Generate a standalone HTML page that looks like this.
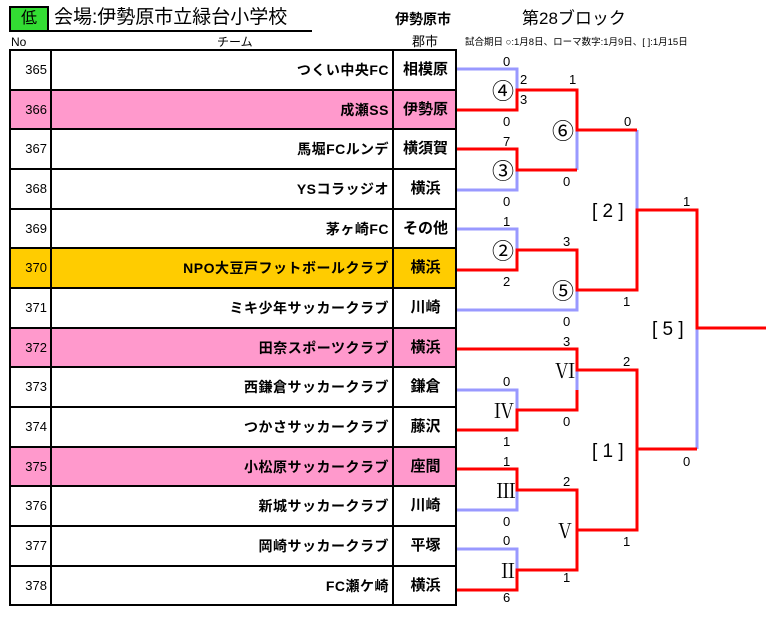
<!DOCTYPE html>
<html><head><meta charset="utf-8"><style>
body{margin:0;width:766px;height:644px;background:#fff;position:relative;overflow:hidden;font-family:"Liberation Sans","Noto Sans CJK JP",sans-serif;}
.a{position:absolute;white-space:nowrap;line-height:1;}
.r{position:absolute;left:9px;width:448px;height:40px;border:2px solid #000;border-bottom:none;box-sizing:border-box;}
.r div{position:absolute;top:0;height:38px;line-height:38px;white-space:nowrap;}
.n{left:0;width:36px;text-align:right;font-size:13px;}
.t{left:39px;width:337px;text-align:right;font-weight:bold;font-size:14px;letter-spacing:0.5px;border-left:2px solid #000;}
.c{left:381px;width:63px;text-align:center;font-weight:bold;font-size:15px;border-left:2px solid #000;}
.p{background:#ff99cc;}.o{background:#ffcc00;}
svg{position:absolute;left:0;top:0;}
svg text{font-family:"Liberation Sans","Noto Sans CJK JP",sans-serif;font-size:13px;}
.s{font-size:22px;}
.m{font-size:20px;font-family:"Liberation Serif","Noto Serif CJK SC",serif;}
.b{font-size:19px;}
</style></head><body>
<div class="a" style="left:9px;top:6px;width:36px;height:22px;background:#33dd33;border:2px solid #000;text-align:center;font-size:16px;line-height:22px;">低</div>
<div class="a" style="left:54px;top:8px;font-size:19px;">会場:伊勢原市立緑台小学校</div>
<div class="a" style="left:10px;top:30px;width:302px;border-top:2px solid #000;"></div>
<div class="a" style="left:395px;top:12px;font-size:14px;font-weight:bold;">伊勢原市</div>
<div class="a" style="left:522px;top:10px;font-size:17px;">第28ブロック</div>
<div class="a" style="left:11px;top:36px;font-size:12px;">No</div>
<div class="a" style="left:217px;top:36px;font-size:12px;">チーム</div>
<div class="a" style="left:412px;top:35px;font-size:13px;">郡市</div>
<div class="a" style="left:465px;top:38px;font-size:9.5px;">試合期日 ○:1月8日、ローマ数字:1月9日、[ ]:1月15日</div>

<div class="r" style="top:49px"><div class="n">365</div><div class="t">つくい中央FC</div><div class="c">相模原</div></div>
<div class="r p" style="top:88.6px"><div class="n">366</div><div class="t">成瀬SS</div><div class="c">伊勢原</div></div>
<div class="r" style="top:128.3px"><div class="n">367</div><div class="t">馬堀FCルンデ</div><div class="c">横須賀</div></div>
<div class="r" style="top:168px"><div class="n">368</div><div class="t">YSコラッジオ</div><div class="c">横浜</div></div>
<div class="r" style="top:207.6px"><div class="n">369</div><div class="t">茅ヶ崎FC</div><div class="c">その他</div></div>
<div class="r o" style="top:247.3px"><div class="n">370</div><div class="t">NPO大豆戸フットボールクラブ</div><div class="c">横浜</div></div>
<div class="r" style="top:287px"><div class="n">371</div><div class="t">ミキ少年サッカークラブ</div><div class="c">川崎</div></div>
<div class="r p" style="top:326.6px"><div class="n">372</div><div class="t">田奈スポーツクラブ</div><div class="c">横浜</div></div>
<div class="r" style="top:366.3px"><div class="n">373</div><div class="t">西鎌倉サッカークラブ</div><div class="c">鎌倉</div></div>
<div class="r" style="top:406px"><div class="n">374</div><div class="t">つかさサッカークラブ</div><div class="c">藤沢</div></div>
<div class="r p" style="top:445.6px"><div class="n">375</div><div class="t">小松原サッカークラブ</div><div class="c">座間</div></div>
<div class="r" style="top:485.3px"><div class="n">376</div><div class="t">新城サッカークラブ</div><div class="c">川崎</div></div>
<div class="r" style="top:525px"><div class="n">377</div><div class="t">岡崎サッカークラブ</div><div class="c">平塚</div></div>
<div class="r" style="top:564.6px;height:41px;border-bottom:2px solid #000"><div class="n">378</div><div class="t">FC瀬ケ崎</div><div class="c">横浜</div></div>

<svg width="766" height="644" fill="none" stroke-width="3">
<g stroke="#9999ff">
<polyline points="457,69 517,69 517,90"/>
<polyline points="577,130 577,170"/>
<polyline points="517,170 517,190 457,190"/>
<polyline points="637,130 637,210"/>
<polyline points="457,229 517,229 517,250"/>
<polyline points="577,290 577,310 457,310"/>
<polyline points="697,328 697,449"/>
<polyline points="577,370 577,390"/>
<polyline points="457,390 517,390 517,410"/>
<polyline points="637,450 637,530"/>
<polyline points="517,490 517,510 457,510"/>
<polyline points="577,530 577,570"/>
<polyline points="457,549 517,549 517,570"/>
</g>
<g stroke="#ff0000">
<polyline points="457,110 517,110 517,90 577,90 577,130 637,130"/>
<polyline points="457,149 517,149 517,170 577,170"/>
<polyline points="457,270 517,270 517,250 577,250 577,290 637,290 637,210 697,210 697,328 766,328"/>
<polyline points="457,349 577,349 577,370 637,370 637,449 697,449"/>
<polyline points="457,430 517,430 517,410 577,410 577,390"/>
<polyline points="457,469 517,469 517,490 577,490 577,530 637,530 637,450"/>
<polyline points="457,590 517,590 517,570 577,570 577,530"/>
</g>
<g fill="#000" stroke="none">
<text x="503" y="66">0</text><text x="520" y="84">2</text><text x="569" y="84">1</text><text x="520" y="104">3</text>
<text class="s" x="492" y="99">④</text><text x="503" y="126">0</text><text class="s" x="552" y="139">⑥</text>
<text x="624" y="126">0</text><text x="503" y="146">7</text><text class="s" x="492" y="179">③</text>
<text x="563" y="186">0</text><text x="503" y="206">0</text><text class="b" x="592" y="217">[ 2 ]</text>
<text x="683" y="206">1</text><text x="503" y="226">1</text><text x="563" y="246">3</text>
<text class="s" x="492" y="259">②</text><text x="503" y="286">2</text><text class="s" x="552" y="299">⑤</text>
<text x="623" y="306">1</text><text x="563" y="326">0</text><text class="b" x="652" y="335">[ 5 ]</text>
<text x="563" y="346">3</text><text x="623" y="366">2</text><text class="m" x="555" y="378">Ⅵ</text>
<text x="503" y="386">0</text><text class="m" x="494" y="418">Ⅳ</text>
<text x="563" y="426">0</text><text x="503" y="446">1</text><text class="b" x="592" y="457">[ 1 ]</text>
<text x="683" y="466">0</text><text x="503" y="466">1</text><text x="563" y="486">2</text>
<text class="m" x="496" y="498">Ⅲ</text><text x="503" y="526">0</text>
<text class="m" x="555" y="538">Ⅴ</text><text x="623" y="546">1</text>
<text x="503" y="545">0</text><text class="m" x="498" y="578">Ⅱ</text>
<text x="563" y="582">1</text><text x="503" y="602">6</text>
</g>
</svg>
</body></html>
